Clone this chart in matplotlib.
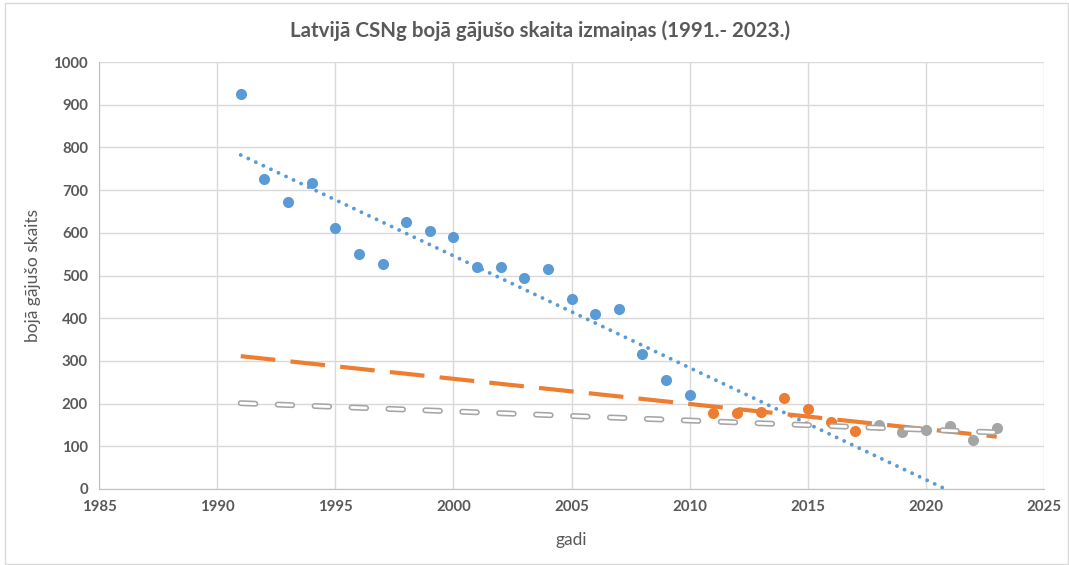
import numpy as np
import matplotlib.pyplot as plt
from matplotlib.patches import Rectangle

plt.rcParams['font.family'] = ['Lato', 'DejaVu Sans']
plt.rcParams['lines.scale_dashes'] = False

# data
years_1 = [1991, 1992, 1993, 1994, 1995, 1996, 1997, 1998, 1999, 2000,
           2001, 2002, 2003, 2004, 2005, 2006, 2007, 2008, 2009, 2010]
deaths_1 = [925, 727, 671, 717, 612, 551, 528, 626, 605, 589,
            519, 519, 493, 516, 444, 409, 421, 315, 255, 220]

years_2 = [2011, 2012, 2013, 2014, 2015, 2016, 2017]
deaths_2 = [178, 179, 180, 212, 188, 157, 135]

years_3 = [2018, 2019, 2020, 2021, 2022, 2023]
deaths_3 = [149, 133, 139, 148, 115, 143]

# trendlines are drawn over this range (forecast forward/backward)
trend_years = [1991, 2023]

c_blue = '#5B9BD5'
c_orange = '#ED7D31'
c_gray = '#A5A5A5'
txt = '#595959'

fig = plt.figure(figsize=(10.69, 5.65), dpi=100)
ax = fig.add_axes([99 / 1069, 1 - 489 / 565, 945 / 1069, 427 / 565])

ax.scatter(years_1, deaths_1, s=64, color=c_blue, zorder=3, linewidths=0)
ax.scatter(years_2, deaths_2, s=64, color=c_orange, zorder=3, linewidths=0)
ax.scatter(years_3, deaths_3, s=64, color=c_gray, zorder=3, linewidths=0)

tx = np.array(trend_years, dtype=float)

# blue trend - round dots
k, b = np.polyfit(years_1, deaths_1, 1)
ax.plot(tx, k * tx + b, color=c_blue, lw=2.8, dashes=(0.01, 6.0),
        dash_capstyle='round', zorder=4)

# orange trend - long dash
k, b = np.polyfit(years_2, deaths_2, 1)
ax.plot(tx, k * tx + b, color=c_orange, lw=3.0, dashes=(25, 11),
        dash_capstyle='butt', zorder=4)

# gray trend - hollow dashes
k, b = np.polyfit(years_3, deaths_3, 1)
ax.plot(tx, k * tx + b, color=c_gray, lw=4.3, dashes=(10.5, 16.1),
        dash_capstyle='round', zorder=4)
ax.plot(tx, k * tx + b, color='white', lw=2.0, dashes=(10.5, 16.1),
        dash_capstyle='round', zorder=4)

ax.set_xlim(1985, 2025)
ax.set_ylim(0, 1000)
ax.set_xticks(range(1985, 2026, 5))
ax.set_yticks(range(0, 1001, 100))
ax.grid(True, color='#D9D9D9', lw=1.0)
ax.set_axisbelow(True)
for s in ['top', 'right']:
    ax.spines[s].set_visible(False)
for s in ['left', 'bottom']:
    ax.spines[s].set_color('#BFBFBF')
ax.tick_params(length=0, labelsize=10.8, labelcolor=txt, pad=8)
for lab in ax.get_xticklabels() + ax.get_yticklabels():
    lab.set_fontweight('bold')

ax.set_xlabel('gadi', fontsize=12.5, color=txt, labelpad=13)
ax.set_ylabel('bojā gājušo skaits', fontsize=12.5, color=txt, labelpad=9)

fig.text(0.505, 0.946, 'Latvijā CSNg bojā gājušo skaita izmaiņas (1991.- 2023.)',
         ha='center', va='center', fontsize=14.8, fontweight='bold', color=txt)

fig.patches.append(Rectangle((5 / 1069, 1 / 565), 1063 / 1069, 561 / 565,
                             transform=fig.transFigure, fill=False,
                             edgecolor='#D9D9D9', lw=1.0))

fig.savefig('out.png', dpi=100)
